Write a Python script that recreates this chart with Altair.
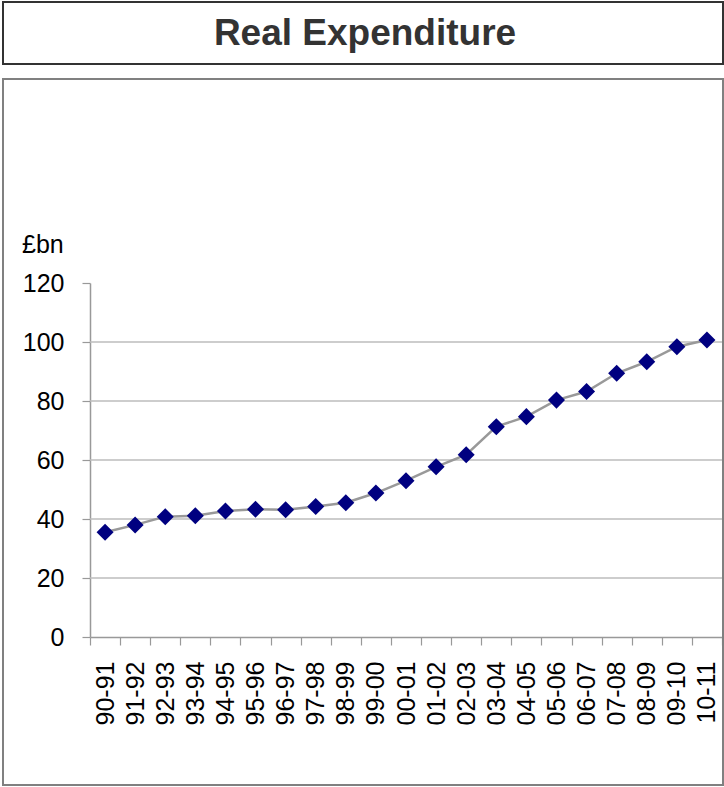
import altair as alt
import pandas as pd

# Financial years and real expenditure (£bn)
years = ["90-91", "91-92", "92-93", "93-94", "94-95", "95-96", "96-97",
         "97-98", "98-99", "99-00", "00-01", "01-02", "02-03", "03-04",
         "04-05", "05-06", "06-07", "07-08", "08-09", "09-10", "10-11"]
spend = [35.5, 38.0, 40.8, 41.1, 42.7, 43.3, 43.1, 44.2, 45.5, 48.8,
         53.0, 57.7, 61.8, 71.3, 74.7, 80.3, 83.2, 89.4, 93.3, 98.4, 100.7]
y_ticks = [0, 20, 40, 60, 80, 100, 120]
grid_values = [20, 40, 60, 80, 100]

FONT = "Liberation Sans"
W, H = 632, 354

df = pd.DataFrame({"year": years, "spend": spend})
one = alt.Data(values=[{"k": 1}])

x_enc = alt.X(
    "year:N", sort=None, title=None,
    scale=alt.Scale(type="band", paddingInner=0, paddingOuter=0),
    axis=alt.Axis(labelAngle=270, tickBand="extent", tickSize=8,
                  labelPadding=16, labelFontSize=25, labelFont=FONT,
                  labelColor="#000000", domainColor="#999999",
                  tickColor="#999999", domainWidth=1.5, tickWidth=1.2,
                  grid=False, labelOverlap=False),
)
y_enc = alt.Y(
    "spend:Q", title=None,
    scale=alt.Scale(domain=[0, 120], nice=False, zero=True),
    axis=alt.Axis(values=y_ticks, tickSize=8, labelPadding=18,
                  labelFontSize=25, labelFont=FONT, labelColor="#000000",
                  domainColor="#999999", tickColor="#999999",
                  domainWidth=1.5, tickWidth=1.2, grid=False),
)

# Outer frames: title box and chart box
title_box = alt.Chart(one).mark_rect(
    filled=False, stroke="#333333", strokeWidth=2
).encode(x=alt.value(-87), x2=alt.value(633),
         y=alt.value(-281), y2=alt.value(-219))

chart_box = alt.Chart(one).mark_rect(
    filled=False, stroke="#808080", strokeWidth=2
).encode(x=alt.value(-87), x2=alt.value(633),
         y=alt.value(-204), y2=alt.value(502))

title_text = alt.Chart(one).mark_text(
    text="Real Expenditure", font=FONT, fontSize=37, fontWeight="bold",
    color="#333333", align="center", baseline="alphabetic"
).encode(x=alt.value(275), y=alt.value(-238))

unit_text = alt.Chart(one).mark_text(
    text="£bn", font=FONT, fontSize=25, color="#000000",
    align="left", baseline="alphabetic"
).encode(x=alt.value(-68), y=alt.value(-30))

grid = alt.Chart(pd.DataFrame({"g": grid_values})).mark_rule(
    color="#bdbdbd", strokeWidth=1.5
).encode(y=alt.Y("g:Q", scale=alt.Scale(domain=[0, 120], nice=False)),
         x=alt.value(0), x2=alt.value(W))

line = alt.Chart(df).mark_line(color="#999999", strokeWidth=2.5).encode(
    x=x_enc, y=y_enc)

points = alt.Chart(df).mark_point(
    shape="diamond", filled=True, color="#000080", size=290, opacity=1
).encode(x=x_enc, y=y_enc)

chart = alt.layer(
    chart_box, title_box, title_text, unit_text, grid, line, points
).properties(
    width=W, height=H,
    autosize=alt.AutoSizeParams(type="none"),
    padding={"left": 90, "top": 283, "right": 2, "bottom": 150},
    background="#ffffff",
).configure_view(stroke=None)

chart.save("out.html", embed_options={"renderer": "svg", "actions": False})
